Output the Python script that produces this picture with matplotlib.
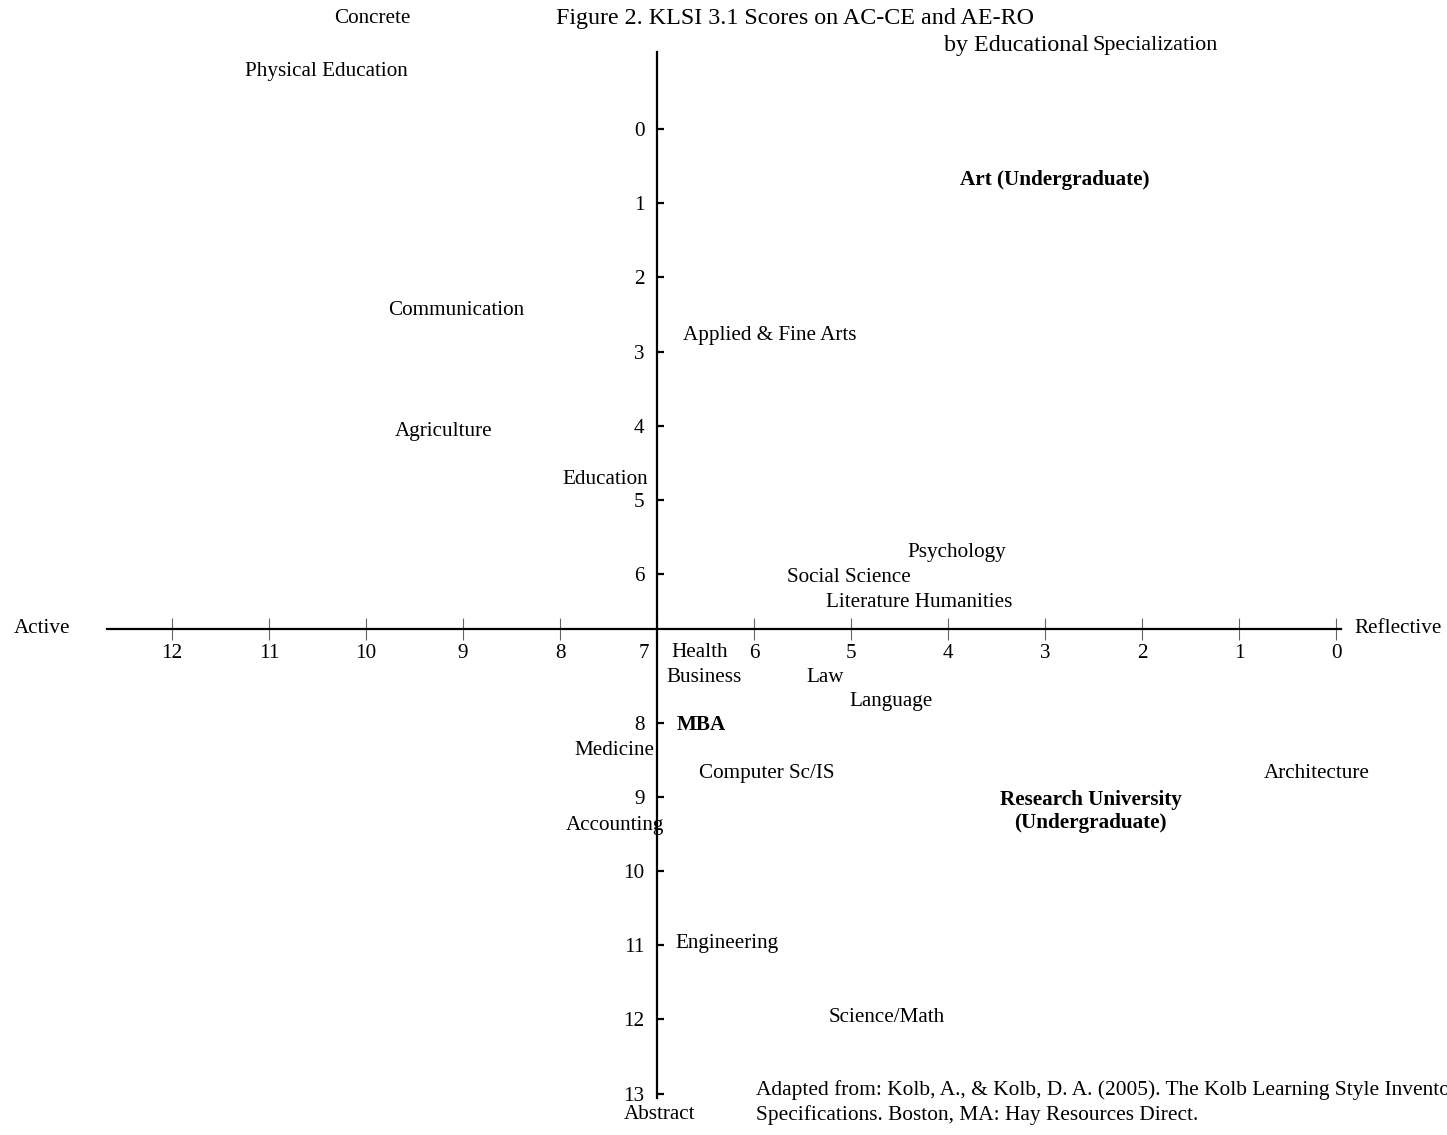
import matplotlib.pyplot as plt
from matplotlib.transforms import ScaledTranslation

plt.rcParams['font.family'] = ['Liberation Serif', 'DejaVu Serif']

# AE-RO (x, reversed) and AC-CE (y, downward) scores by specialization
fields = ['Physical Education', 'Art (Undergraduate)', 'Communication', 'Applied & Fine Arts',
          'Agriculture', 'Education', 'Psychology', 'Social Science', 'Literature Humanities',
          'Health', 'Business', 'Law', 'Language', 'MBA', 'Medicine', 'Computer Sc/IS',
          'Architecture', 'Accounting', 'Engineering', 'Science/Math']
ae_ro = [11.25, 3.88, 9.77, 6.73, 9.70, 7.98, 4.42, 5.66, 5.26,
         6.85, 6.90, 5.46, 5.02, 6.80, 7.85, 6.57, 0.74, 7.94, 6.81, 5.23]
ac_ce = [-0.78, 0.69, 2.45, 2.78, 4.08, 4.73, 5.71, 6.04, 6.38,
         7.06, 7.39, 7.39, 7.71, 8.03, 8.37, 8.69, 8.69, 9.38, 10.98, 11.97]
bold_fields = ['Art (Undergraduate)', 'MBA']

research_label = 'Research University\n(Undergraduate)'
research_ae_ro = 2.53
research_ac_ce = 9.20

x_ticks = list(range(12, -1, -1))
y_ticks = [0, 1, 2, 3, 4, 5, 6, 8, 9, 10, 11, 12, 13]
axis_cross_x = 7
axis_cross_y = 6.74

fs = 15.2

fig = plt.figure(figsize=(14.47, 11.35), dpi=100)
fig.patch.set_facecolor('white')
ax = fig.add_axes([0, 0, 1, 1])
ax.set_facecolor('none')
ax.set_xlim(13.773, -1.144)
ax.set_ylim(13.558, -1.739)

ax.spines['top'].set_visible(False)
ax.spines['right'].set_visible(False)
ax.spines['left'].set_position(('data', axis_cross_x))
ax.spines['bottom'].set_position(('data', axis_cross_y))
ax.spines['left'].set_bounds(-1.04, 13.06)
ax.spines['bottom'].set_bounds(-0.05, 12.67)
ax.spines['left'].set_linewidth(1.6)
ax.spines['bottom'].set_linewidth(1.6)

ax.set_xticks(x_ticks)
ax.set_xticklabels([str(t) for t in x_ticks])
ax.set_yticks(y_ticks)
ax.set_yticklabels([str(t) for t in y_ticks])
ax.tick_params(axis='x', direction='inout', length=16, width=0.8, color='#666666',
               pad=2.5, labelsize=fs)
ax.tick_params(axis='y', direction='in', length=5, width=1.6, pad=9, labelsize=fs)

# the "7" on the x axis sits left of the vertical axis
for lab in ax.get_xticklabels():
    if lab.get_text() == '7':
        lab.set_horizontalalignment('right')
        lab.set_transform(lab.get_transform() + ScaledTranslation(-6 / 72, 0, fig.dpi_scale_trans))

for name, x, y in zip(fields, ae_ro, ac_ce):
    w = 'bold' if name in bold_fields else 'normal'
    ax.text(x, y, name, ha='left', va='center', fontsize=fs, fontweight=w)

ax.text(research_ae_ro, research_ac_ce, research_label, ha='center', va='center',
        multialignment='center', fontsize=fs, fontweight='bold')

# pole labels, title and source
fig.text(0.2834, 0.9833, 'Concrete', ha='right', va='center', fontsize=fs)
fig.text(0.431, 0.018, 'Abstract', ha='left', va='center', fontsize=fs)
fig.text(0.0097, 0.446, 'Active', ha='left', va='center', fontsize=fs)
fig.text(0.9357, 0.446, 'Reflective', ha='left', va='center', fontsize=fs)

fig.text(0.3843, 0.9833, 'Figure 2. KLSI 3.1 Scores on AC-CE and AE-RO', ha='left', va='center', fontsize=17.3)
fig.text(0.6524, 0.9595, 'by Educational', ha='left', va='center', fontsize=17.3)
fig.text(0.7547, 0.9595, 'Specialization', ha='left', va='center', fontsize=15.9)

fig.text(0.5225, 0.0396, 'Adapted from: Kolb, A., & Kolb, D. A. (2005). The Kolb Learning Style Inventory',
         ha='left', va='center', fontsize=15.4)
fig.text(0.5225, 0.018, 'Specifications. Boston, MA: Hay Resources Direct.', ha='left', va='center', fontsize=15.4)

fig.savefig('out.png', dpi=100)
